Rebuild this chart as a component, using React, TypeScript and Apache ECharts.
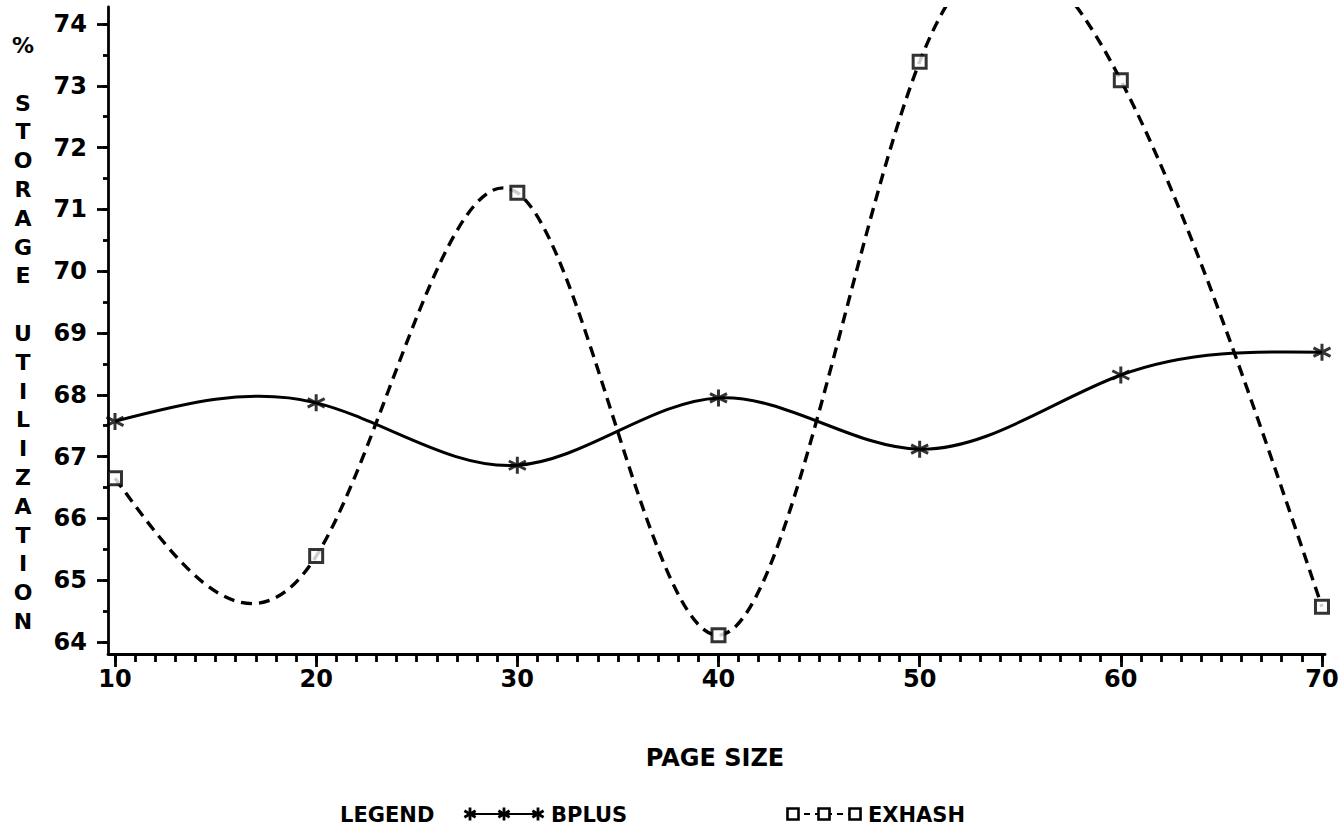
import React, { useEffect, useRef } from "react";
import * as echarts from "echarts";

// ---- data ----
const pageSizes = [10, 20, 30, 40, 50, 60, 70];
const bplus = [67.57, 67.87, 66.86, 67.95, 67.12, 68.32, 68.69];
const exhash = [66.65, 65.39, 71.27, 64.11, 73.39, 73.09, 64.57];

// ---- axis ticks / labels ----
const xMajorTicks = [10, 20, 30, 40, 50, 60, 70];
const xMinorTicks = Array.from({ length: 61 }, (_, i) => 10 + i);
const yMajorTicks = [64, 65, 66, 67, 68, 69, 70, 71, 72, 73, 74];
const yMinorTicks = Array.from({ length: 21 }, (_, i) => 64 + i * 0.5);
const yTitleLetters = ["%", "", "S", "T", "O", "R", "A", "G", "E", "", "U", "T", "I", "L", "I", "Z", "A", "T", "I", "O", "N"];

const FONT = '"DejaVu Sans", "Liberation Sans", sans-serif';
const INK = "#000";

// natural cubic spline through the points, returned as cubic Bezier segments in data space
function splineSegments(xs: number[], ys: number[]) {
  const n = xs.length;
  const h: number[] = [];
  for (let i = 0; i < n - 1; i++) h.push(xs[i + 1] - xs[i]);
  const a = new Array(n).fill(0), b = new Array(n).fill(0), c = new Array(n).fill(0), d = new Array(n).fill(0);
  b[0] = 1; b[n - 1] = 1;
  for (let i = 1; i < n - 1; i++) {
    a[i] = h[i - 1];
    b[i] = 2 * (h[i - 1] + h[i]);
    c[i] = h[i];
    d[i] = 6 * ((ys[i + 1] - ys[i]) / h[i] - (ys[i] - ys[i - 1]) / h[i - 1]);
  }
  const cp = new Array(n).fill(0), dp = new Array(n).fill(0);
  cp[0] = c[0] / b[0]; dp[0] = d[0] / b[0];
  for (let i = 1; i < n; i++) {
    const m = b[i] - a[i] * cp[i - 1];
    cp[i] = c[i] / m;
    dp[i] = (d[i] - a[i] * dp[i - 1]) / m;
  }
  const M = new Array(n).fill(0);
  M[n - 1] = dp[n - 1];
  for (let i = n - 2; i >= 0; i--) M[i] = dp[i] - cp[i] * M[i + 1];
  const segs: { c1: number[]; c2: number[]; p: number[] }[] = [];
  for (let i = 0; i < n - 1; i++) {
    const hh = h[i];
    const s = (ys[i + 1] - ys[i]) / hh;
    const d0 = s - (hh * (2 * M[i] + M[i + 1])) / 6;
    const d1 = s + (hh * (M[i] + 2 * M[i + 1])) / 6;
    segs.push({
      c1: [xs[i] + hh / 3, ys[i] + (d0 * hh) / 3],
      c2: [xs[i + 1] - hh / 3, ys[i + 1] - (d1 * hh) / 3],
      p: [xs[i + 1], ys[i + 1]],
    });
  }
  return segs;
}

function curveSeries(ys: number[], dash: number[] | null, width: number) {
  const segs = splineSegments(pageSizes, ys);
  return {
    type: "custom",
    coordinateSystem: "cartesian2d",
    xAxisIndex: 0,
    yAxisIndex: 0,
    clip: true,
    silent: true,
    z: 2,
    data: [[pageSizes[0], ys[0]]],
    renderItem: (_params: any, api: any) => {
      const p0 = api.coord([pageSizes[0], ys[0]]);
      let d = `M${p0[0]},${p0[1]}`;
      segs.forEach((s) => {
        const a = api.coord(s.c1);
        const b = api.coord(s.c2);
        const p = api.coord(s.p);
        d += ` C${a[0]},${a[1]} ${b[0]},${b[1]} ${p[0]},${p[1]}`;
      });
      return {
        type: "path",
        shape: { pathData: d },
        style: { fill: "none", stroke: INK, lineWidth: width, lineDash: dash || undefined },
      };
    },
  };
}

const STAR = "path://M0,-6L0,6M-5.2,-3L5.2,3M-5.2,3L5.2,-3";

function starGraphic(cx: number, cy: number, r: number) {
  const k = 0.866;
  return {
    type: "group",
    children: [
      { type: "line", shape: { x1: cx, y1: cy - r, x2: cx, y2: cy + r }, style: { stroke: INK, lineWidth: 2.8 } },
      { type: "line", shape: { x1: cx - r * k, y1: cy - r / 2, x2: cx + r * k, y2: cy + r / 2 }, style: { stroke: INK, lineWidth: 2.8 } },
      { type: "line", shape: { x1: cx - r * k, y1: cy + r / 2, x2: cx + r * k, y2: cy - r / 2 }, style: { stroke: INK, lineWidth: 2.8 } },
    ],
  };
}

function squareGraphic(cx: number, cy: number, s: number) {
  return {
    type: "rect",
    shape: { x: cx - s / 2, y: cy - s / 2, width: s, height: s },
    style: { fill: "#fff", stroke: INK, lineWidth: 2.6 },
    z: 10,
  };
}

function textG(text: string, x: number, y: number, size: number) {
  return {
    type: "text",
    x,
    y,
    style: { text, fill: INK, fontSize: size, fontWeight: "bold", fontFamily: FONT, verticalAlign: "middle", align: "left" },
  };
}

export default function App() {
  const ref = useRef<HTMLDivElement>(null);

  useEffect(() => {
    document.body.style.margin = "0";
    if (!ref.current) return;
    const chart = echarts.init(ref.current, undefined, { renderer: "svg" });

    const legendY = 815;
    const option: any = {
      animation: false,
      backgroundColor: "#fff",
      grid: { left: 108, right: 18, top: 7, bottom: 177, containLabel: false },
      xAxis: [
        {
          type: "value",
          min: 9.652,
          max: 70.15,
          position: "bottom",
          axisLine: { show: true, onZero: false, lineStyle: { color: INK, width: 2.8 } },
          axisTick: { show: true, customValues: xMajorTicks, length: 13, lineStyle: { color: INK, width: 2.8 } },
          axisLabel: {
            show: true,
            customValues: xMajorTicks,
            margin: 13,
            color: INK,
            fontSize: 24,
            fontWeight: "bold",
            fontFamily: FONT,
          },
          splitLine: { show: false },
        },
        {
          type: "value",
          min: 9.652,
          max: 70.15,
          position: "bottom",
          axisLine: { show: false, onZero: false },
          axisTick: { show: true, customValues: xMinorTicks, length: 8, lineStyle: { color: INK, width: 2.8 } },
          axisLabel: { show: false },
          splitLine: { show: false },
        },
      ],
      yAxis: [
        {
          type: "value",
          min: 63.806,
          max: 74.275,
          position: "left",
          axisLine: { show: true, onZero: false, lineStyle: { color: INK, width: 2.8 } },
          axisTick: { show: true, customValues: yMajorTicks, length: 11, lineStyle: { color: INK, width: 2.8 } },
          axisLabel: {
            show: true,
            customValues: yMajorTicks,
            margin: 21,
            color: INK,
            fontSize: 24,
            fontWeight: "bold",
            fontFamily: FONT,
          },
          splitLine: { show: false },
        },
        {
          type: "value",
          min: 63.806,
          max: 74.275,
          position: "left",
          axisLine: { show: false, onZero: false },
          axisTick: { show: true, customValues: yMinorTicks, length: 5, lineStyle: { color: INK, width: 2.8 } },
          axisLabel: { show: false },
          splitLine: { show: false },
        },
      ],
      series: [
        curveSeries(bplus, null, 3),
        curveSeries(exhash, [11, 7], 3.4),
        {
          name: "BPLUS",
          type: "scatter",
          data: pageSizes.map((x, i) => [x, bplus[i]]),
          symbol: STAR,
          symbolSize: 17,
          itemStyle: { color: INK, borderColor: INK, borderWidth: 3 },
          z: 5,
          silent: true,
        },
        {
          name: "EXHASH",
          type: "scatter",
          data: pageSizes.map((x, i) => [x, exhash[i]]),
          symbol: "rect",
          symbolSize: 13,
          itemStyle: { color: "#fff", borderColor: INK, borderWidth: 3 },
          z: 5,
          silent: true,
        },
      ],
      graphic: [
        {
          type: "text",
          x: 23,
          y: 31,
          style: {
            text: yTitleLetters.join("\n"),
            fill: INK,
            fontSize: 22,
            fontWeight: "bold",
            fontFamily: FONT,
            lineHeight: 28.8,
            align: "center",
            verticalAlign: "top",
          },
        },
        {
          type: "text",
          x: 715,
          y: 758,
          style: { text: "PAGE SIZE", fill: INK, fontSize: 24, fontWeight: "bold", fontFamily: FONT, align: "center", verticalAlign: "middle" },
        },
        textG("LEGEND", 340, legendY, 21),
        { type: "line", shape: { x1: 470, y1: legendY - 1, x2: 538, y2: legendY - 1 }, style: { stroke: INK, lineWidth: 2 } },
        starGraphic(470, legendY - 1, 6.5),
        starGraphic(504, legendY - 1, 6.5),
        starGraphic(538, legendY - 1, 6.5),
        textG("BPLUS", 551, legendY, 21),
        { type: "line", shape: { x1: 793, y1: legendY - 1, x2: 855, y2: legendY - 1 }, style: { stroke: INK, lineWidth: 2.2, lineDash: [6, 5] } },
        squareGraphic(793, legendY - 1, 11),
        squareGraphic(824, legendY - 1, 11),
        squareGraphic(855, legendY - 1, 11),
        textG("EXHASH", 868, legendY, 21),
      ],
    };

    chart.setOption(option);
    return () => chart.dispose();
  }, []);

  return <div ref={ref} style={{ width: 1343, height: 831 }} />;
}
